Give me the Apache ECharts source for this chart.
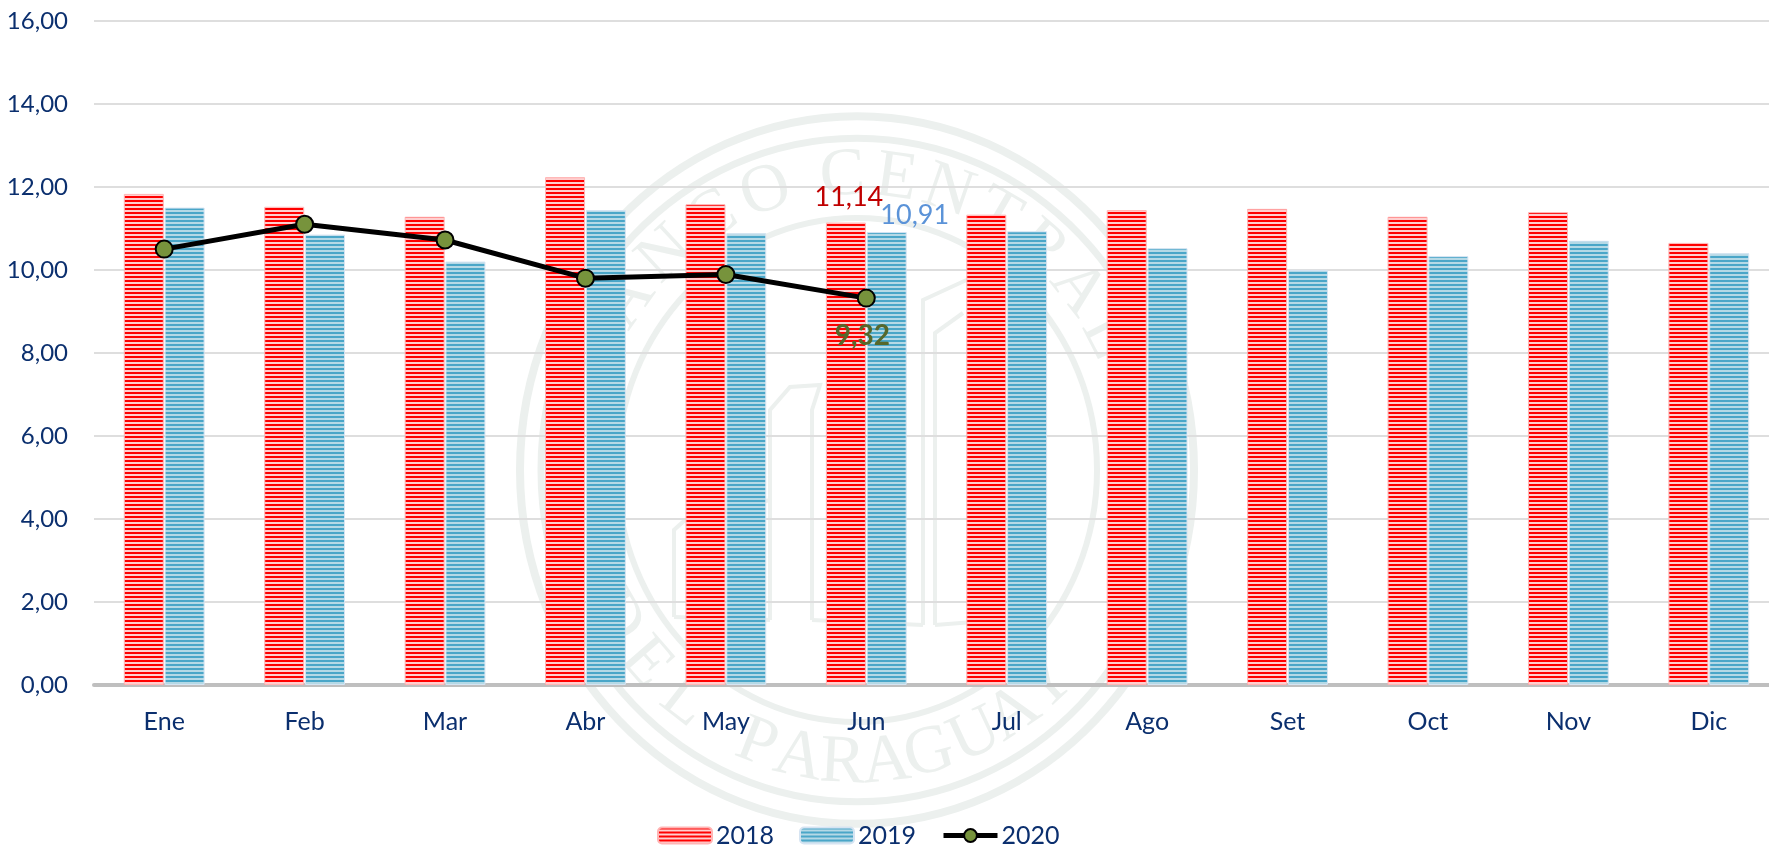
<!DOCTYPE html>
<html><head><meta charset="utf-8">
<style>html,body{margin:0;padding:0;background:#fff}#c{width:1769px;height:849px}</style>
<script src="https://cdn.jsdelivr.net/npm/echarts@6/dist/echarts.min.js"></script>
</head><body><div id="c"></div>
<script>
const categories = ['Ene','Feb','Mar','Abr','May','Jun','Jul','Ago','Set','Oct','Nov','Dic'];
const s2018 = [11.83,11.52,11.28,12.23,11.58,11.14,11.33,11.44,11.47,11.28,11.39,10.65];
const s2019 = [11.50,10.85,10.20,11.44,10.88,10.91,10.93,10.52,10.00,10.33,10.70,10.40];
const s2020 = [10.50,11.10,10.72,9.80,9.89,9.32,null,null,null,null,null,null];
const yTicks = {min:0,max:16,interval:2};
const navy = '#0b2f6e', fontName = 'Lato';

function stripes(a, light){
  const c = document.createElement('canvas'); c.width = 4; c.height = 4;
  const g = c.getContext('2d');
  g.fillStyle = light; g.fillRect(0,0,4,4);
  g.fillStyle = a; g.fillRect(0,0,4,2);
  return c;
}
const redFill = {image: stripes('#ff0000','#ffcfcf'), repeat:'repeat'};
const blueFill = {image: stripes('#4aa6c8','#b5d9e6'), repeat:'repeat'};

// faint seal behind the plot
const wm = '#ecf0ee', cx = 857, cy = 470, k = 1.05;
const seal = [];
function ring(rx, lw){ seal.push({type:'ellipse', z:-5, shape:{cx, cy, rx, ry:rx*k}, style:{fill:'none', stroke:wm, lineWidth:lw}, silent:true}); }
ring(337,8); ring(316,7); ring(240,6);
function letter(ch, deg, bottom){
  const t = deg*Math.PI/180, r = 280;
  const x = cx + r*Math.sin(t), y = bottom ? cy + r*k*Math.cos(t) : cy - r*k*Math.cos(t);
  seal.push({type:'text', z:-5, x, y, rotation: bottom ? t : -t, silent:true,
    style:{text:ch, fill:wm, font:'68px "Liberation Serif"', align:'center', verticalAlign:'middle'}});
}
[['B',-67],['A',-55],['N',-43],['C',-31],['O',-19],['C',-3],['E',8],['N',19],['T',30],['R',41],['A',52],['L',63]].forEach(l=>letter(l[0],l[1],false));
[['D',-60],['E',-49],['L',-38],['P',-21],['A',-12],['R',-3],['A',6],['G',15],['U',25],['A',34],['Y',43]].forEach(l=>letter(l[0],l[1],true));
function path(pts){ seal.push({type:'polyline', z:-5, shape:{points:pts}, style:{fill:'none', stroke:wm, lineWidth:4}, silent:true}); }
path([[674,617],[674,530],[685,520],[770,500]]);
path([[770,620],[770,410],[790,387],[820,385],[812,410],[812,620]]);
path([[923,625],[923,300],[973,277]]);
path([[935,625],[935,333],[963,313]]);
path([[674,617],[770,620]]);
path([[812,620],[923,625]]);
path([[935,625],[1000,620],[1000,400]]);

const chart = echarts.init(document.getElementById('c'), null, {renderer:'canvas'});
chart.setOption({
  animation:false,
  backgroundColor:'#fff',
  textStyle:{fontFamily:fontName},
  graphic:{elements:seal},
  grid:{left:94, width:1685, top:20.8, height:664.2, containLabel:false, outerBoundsMode:'none'},
  xAxis:{type:'category', data:categories,
    axisLine:{lineStyle:{color:'#bfbfbf', width:4}}, axisTick:{show:false},
    axisLabel:{color:navy, fontSize:25, margin:24, fontFamily:fontName}},
  yAxis:{type:'value', min:yTicks.min, max:yTicks.max, interval:yTicks.interval,
    axisLine:{show:false}, axisTick:{show:false},
    splitLine:{lineStyle:{color:'#dedede', width:2}},
    axisLabel:{color:navy, fontSize:24, margin:26, align:'right', fontFamily:fontName,
      formatter:v=>v.toFixed(2).replace('.',',')}},
  legend:{bottom:0, left:657, itemWidth:54, itemHeight:16, itemGap:25, padding:[0,0,1,0],
    lineStyle:{width:5},
    textStyle:{color:navy, fontSize:25, fontFamily:fontName, padding:[0,0,0,-1]},
    data:['2018','2019','2020']},
  series:[
    {name:'2018', type:'bar', data:s2018, barWidth:40, barGap:'2%',
      itemStyle:{color:redFill, borderColor:'#ffb5b5', borderWidth:1},
      label:{show:true, position:'top', distance:12, offset:[3,0], color:'#c00000', fontSize:27, fontFamily:fontName,
        formatter:p=>p.dataIndex===5 ? p.value.toFixed(2).replace('.',',') : ''}},
    {name:'2019', type:'bar', data:s2019, barWidth:40,
      itemStyle:{color:blueFill, borderColor:'#d6e4f2', borderWidth:1},
      label:{show:true, position:'top', distance:-1, offset:[28,-4], color:'#5b93d8', fontSize:27, fontFamily:fontName,
        formatter:p=>p.dataIndex===5 ? p.value.toFixed(2).replace('.',',') : ''}},
    {name:'2020', type:'line', data:s2020, symbol:'circle', symbolSize:17,
      lineStyle:{color:'#000', width:5},
      itemStyle:{color:'#77933c', borderColor:'#000', borderWidth:2},
      label:{show:true, position:'bottom', distance:14, offset:[-4,0], color:'#56682c', fontSize:28, fontWeight:'bold', fontFamily:fontName,
        formatter:p=>p.dataIndex===5 ? p.value.toFixed(2).replace('.',',') : ''},
      z:5}
  ]
});
</script></body></html>
